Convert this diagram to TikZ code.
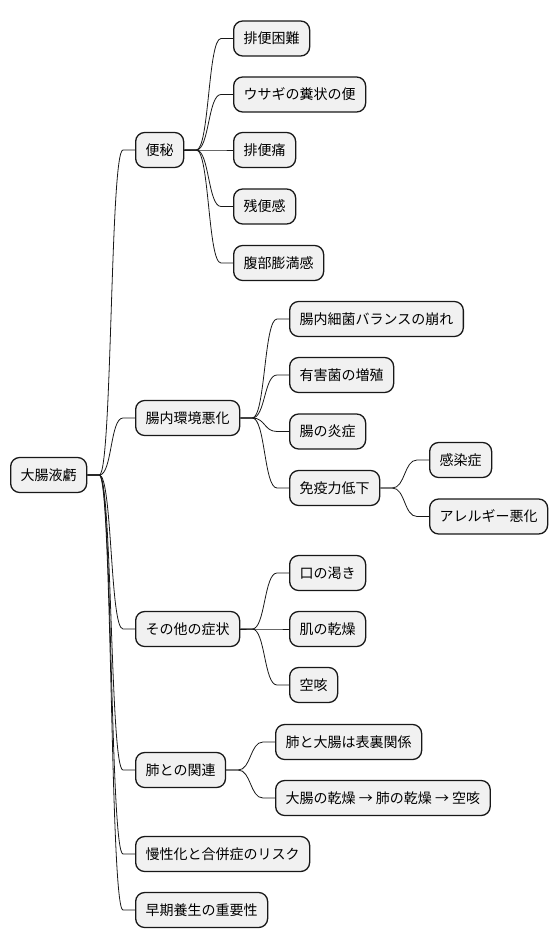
\documentclass[tikz,border=0pt]{standalone}
\usepackage{fontspec}
\newfontfamily\jpfont{Noto Sans CJK JP}
\usetikzlibrary{calc,positioning}
\definecolor{boxfill}{HTML}{F1F1F1}
\definecolor{edgeline}{HTML}{181818}
% parent -> child connector
\newcommand{\branch}[2]{\draw[conn] (#1.east) -- ++(12,0) .. controls +(13,0) and +(-13,0) .. ($(#2.west)+(-12,0)$) -- (#2.west);}

\begin{document}
\begin{tikzpicture}[x=1pt, y=-1pt,
    topic/.style={draw=edgeline, fill=boxfill, line width=1.3pt, rounded corners=9pt,
        minimum height=35pt, inner xsep=10pt, inner ysep=0pt, anchor=west,
        font=\jpfont\fontsize{14pt}{16pt}\selectfont, text=black},
    conn/.style={draw=edgeline, line width=0.8pt}]
    \useasboundingbox (0,0) rectangle (558,949);

    % root
    \node[topic] (root) at (10,475) {大腸液虧};

    % first level
    \node[topic] (benpi)  at (135,150) {便秘};
    \node[topic] (kankyo) at (135,418) {腸内環境悪化};
    \node[topic] (sonota) at (135,629) {その他の症状};
    \node[topic] (hai)    at (135,770) {肺との関連};
    \node[topic] (risk)   at (135,854) {慢性化と合併症のリスク};
    \node[topic] (yojo)   at (135,910) {早期養生の重要性};

    % constipation
    \node[topic] (konnan)  at (233,38.5) {排便困難};
    \node[topic] (usagi)   at (233,94.5) {ウサギの糞状の便};
    \node[topic] (tsu)     at (233,150) {排便痛};
    \node[topic] (zanben)  at (233,206.5) {残便感};
    \node[topic] (fukubu)  at (233,263) {腹部膨満感};

    % gut environment
    \node[topic] (saikin)  at (289,319) {腸内細菌バランスの崩れ};
    \node[topic] (yugai)   at (289,375) {有害菌の増殖};
    \node[topic] (ensho)   at (289,431.5) {腸の炎症};
    \node[topic] (meneki)  at (289,488) {免疫力低下};
    \node[topic] (kansen)  at (429,460) {感染症};
    \node[topic] (allergy) at (429,516.5) {アレルギー悪化};

    % other symptoms
    \node[topic] (kuchi)  at (289,573) {口の渇き};
    \node[topic] (hada)   at (289,629) {肌の乾燥};
    \node[topic] (karaseki) at (289,685) {空咳};

    % lung
    \node[topic] (hyori) at (275,742) {肺と大腸は表裏関係};
    \node[topic] (kanso) at (275,798) {大腸の乾燥 → 肺の乾燥 → 空咳};

    \foreach \c in {benpi,kankyo,sonota,hai,risk,yojo} {\branch{root}{\c}}
    \foreach \c in {konnan,usagi,tsu,zanben,fukubu} {\branch{benpi}{\c}}
    \foreach \c in {saikin,yugai,ensho,meneki} {\branch{kankyo}{\c}}
    \foreach \c in {kansen,allergy} {\branch{meneki}{\c}}
    \foreach \c in {kuchi,hada,karaseki} {\branch{sonota}{\c}}
    \foreach \c in {hyori,kanso} {\branch{hai}{\c}}
\end{tikzpicture}
\end{document}
